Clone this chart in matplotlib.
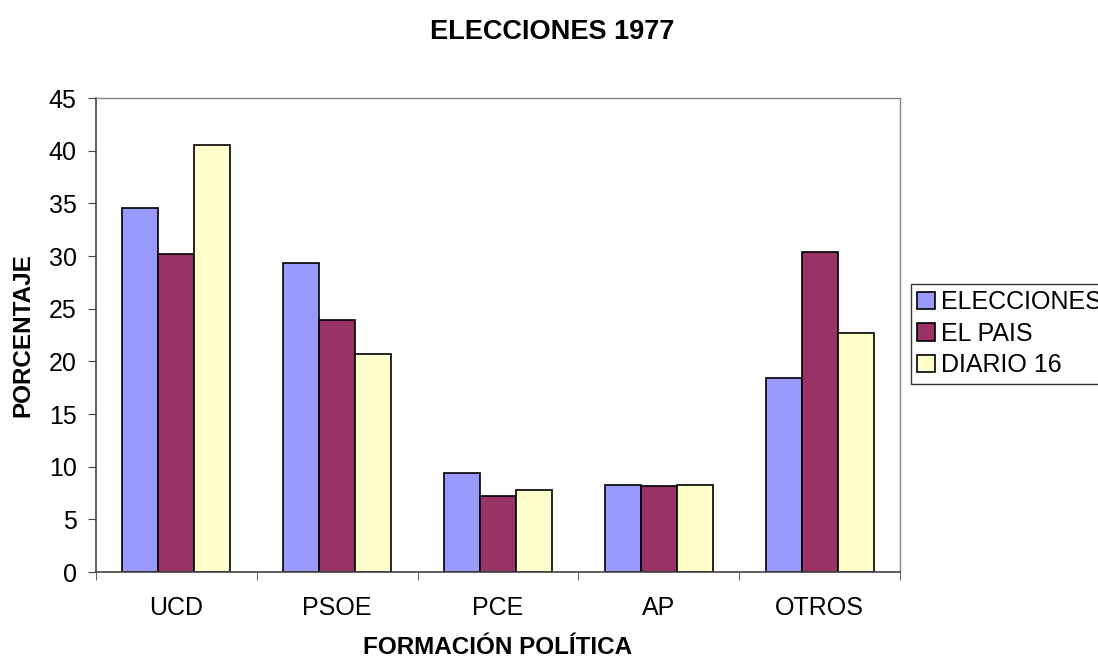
import matplotlib.pyplot as plt
import numpy as np

plt.rcParams['font.family'] = ['Liberation Sans', 'DejaVu Sans']

partidos = ['UCD', 'PSOE', 'PCE', 'AP', 'OTROS']
elecciones = [34.6, 29.3, 9.4, 8.3, 18.4]
el_pais = [30.2, 23.9, 7.2, 8.2, 30.4]
diario16 = [40.5, 20.7, 7.8, 8.3, 22.7]

series = ['ELECCIONES', 'EL PAIS', 'DIARIO 16']
colores = ['#9999FF', '#993366', '#FFFFCC']

fig = plt.figure(figsize=(10.98, 6.6), dpi=100)
ax = fig.add_axes([96/1098, 88/660, 804/1098, 474/660])

x = np.arange(len(partidos))
w = 0.224
for i, (vals, nombre, c) in enumerate(zip([elecciones, el_pais, diario16], series, colores)):
    ax.bar(x + (i - 1) * w, vals, w, color=c, edgecolor='black', linewidth=1.2, label=nombre)

ax.set_xlim(-0.5, 4.5)
ax.set_ylim(0, 45)
ax.set_yticks(range(0, 46, 5))
ax.set_xticks(x)
ax.set_xticklabels(partidos)
ax.set_xticks(np.arange(-0.5, 4.6, 1), minor=True)
ax.tick_params(axis='x', which='major', length=0, pad=17, labelsize=18)
ax.tick_params(axis='x', which='minor', length=6, direction='out', color='#444444')
ax.tick_params(axis='y', length=6, direction='out', labelsize=18, pad=8, color='#444444')

for s in ['left', 'bottom']:
    ax.spines[s].set_color('#444444')
    ax.spines[s].set_linewidth(1.2)
for s in ['top', 'right']:
    ax.spines[s].set_color('#888888')
    ax.spines[s].set_linewidth(1.0)

ax.set_xlabel('FORMACIÓN POLÍTICA', fontsize=17.5, fontweight='bold', labelpad=12)
ax.set_ylabel('PORCENTAJE', fontsize=17.5, fontweight='bold', labelpad=10)
fig.text(552/1098, 1 - 32/660, 'ELECCIONES 1977', ha='center', va='center',
         fontsize=19.5, fontweight='bold')

leg = ax.legend(loc='upper left', bbox_to_anchor=(911/1098, 1 - 284/660),
                bbox_transform=fig.transFigure, fontsize=18, frameon=True,
                fancybox=False, edgecolor='black', handlelength=0.7, handleheight=0.7,
                handletextpad=0.25, borderpad=0.25, labelspacing=0.3, borderaxespad=0)
leg.get_frame().set_linewidth(1.0)

fig.savefig('out.png', dpi=100)
